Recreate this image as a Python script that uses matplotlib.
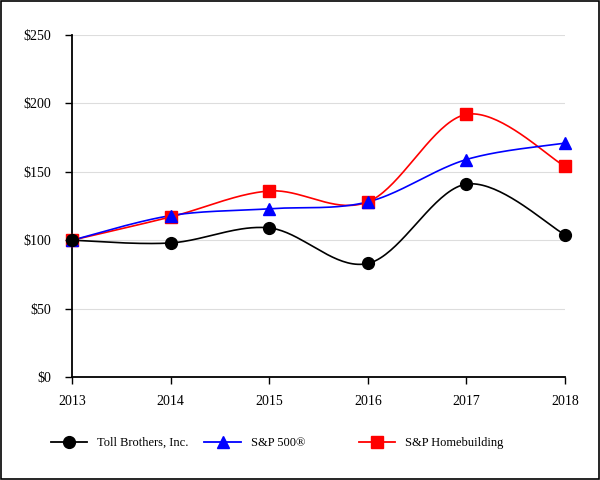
import numpy as np
import matplotlib
matplotlib.use("Agg")
import matplotlib.pyplot as plt
from matplotlib.patches import Rectangle

# -------------------------
# DATA
# -------------------------
years = [2013, 2014, 2015, 2016, 2017, 2018]
toll = [100, 98, 109, 83, 141, 104]
sp500 = [100, 118, 123, 128, 159, 171]
homebuilding = [100, 117, 136, 128, 192, 154]
y_ticks = [0, 50, 100, 150, 200, 250]
y_labels = ["$0", "$50", "$100", "$150", "$200", "$250"]

plt.rcParams["font.family"] = ["Liberation Serif", "DejaVu Serif"]
plt.rcParams["font.size"] = 10


def smooth(x, y, n=40):
    """Catmull-Rom style smoothing through the points (like Excel smoothed lines)."""
    x = np.asarray(x, float)
    y = np.asarray(y, float)
    xs, ys = [], []
    for i in range(len(x) - 1):
        p0 = (x[i - 1], y[i - 1]) if i > 0 else (x[i], y[i])
        p1 = (x[i], y[i])
        p2 = (x[i + 1], y[i + 1])
        p3 = (x[i + 2], y[i + 2]) if i + 2 < len(x) else (x[i + 1], y[i + 1])
        c1 = (p1[0] + (p2[0] - p0[0]) / 6, p1[1] + (p2[1] - p0[1]) / 6)
        c2 = (p2[0] - (p3[0] - p1[0]) / 6, p2[1] - (p3[1] - p1[1]) / 6)
        t = np.linspace(0, 1, n)
        bx = (1 - t) ** 3 * p1[0] + 3 * (1 - t) ** 2 * t * c1[0] + 3 * (1 - t) * t ** 2 * c2[0] + t ** 3 * p2[0]
        by = (1 - t) ** 3 * p1[1] + 3 * (1 - t) ** 2 * t * c1[1] + 3 * (1 - t) * t ** 2 * c2[1] + t ** 3 * p2[1]
        xs.extend(bx)
        ys.extend(by)
    return np.array(xs), np.array(ys)


fig = plt.figure(figsize=(6, 4.8), dpi=100)
ax = fig.add_axes([0.12, 0.2146, 0.8217, 0.7124])

series = [
    ("Toll Brothers, Inc.", toll, "black", "o", 8.5),
    ("S&P 500\u00ae", sp500, "#0000ff", "^", 9),
    ("S&P Homebuilding", homebuilding, "#ff0000", "s", 8.5),
]

handles = []
# draw homebuilding first so others sit on top, as in the reference
for label, vals, color, marker, ms in series[::-1]:
    sx, sy = smooth(years, vals)
    ax.plot(sx, sy, color=color, lw=1.2, clip_on=False, zorder=3)
    ax.plot(years, vals, ls="none", marker=marker, ms=ms, color=color,
            clip_on=False, zorder=4)
for label, vals, color, marker, ms in series:
    h, = ax.plot([], [], color=color, lw=1.3, marker=marker, ms=ms, label=label)
    handles.append(h)

ax.set_xlim(2013, 2018)
ax.set_ylim(0, 250)
ax.set_xticks(years)
ax.set_yticks(y_ticks)
ax.set_yticklabels(y_labels)
ax.yaxis.grid(True, color="#dddddd", lw=0.8)
ax.set_axisbelow(True)
for s in ["top", "right"]:
    ax.spines[s].set_visible(False)
for s in ["left", "bottom"]:
    ax.spines[s].set_linewidth(1.3)
ax.tick_params(axis="both", length=5, width=1, color="black", labelsize=10)
ax.tick_params(axis="x", pad=8)
ax.tick_params(axis="y", pad=10)

# legend entries placed individually
legend_x = [0.066, 0.322, 0.579]
for h, lx in zip(handles, legend_x):
    fig.legend(handles=[h], loc="center left", bbox_to_anchor=(lx, 0.077),
               frameon=False, handlelength=2.9, handletextpad=0.8, fontsize=9)

# border around the whole figure
fig.patches.append(Rectangle((0.002, 0.002), 0.996, 0.996, transform=fig.transFigure,
                             fill=False, edgecolor="black", lw=1.2))

fig.savefig("out.png", dpi=100)
